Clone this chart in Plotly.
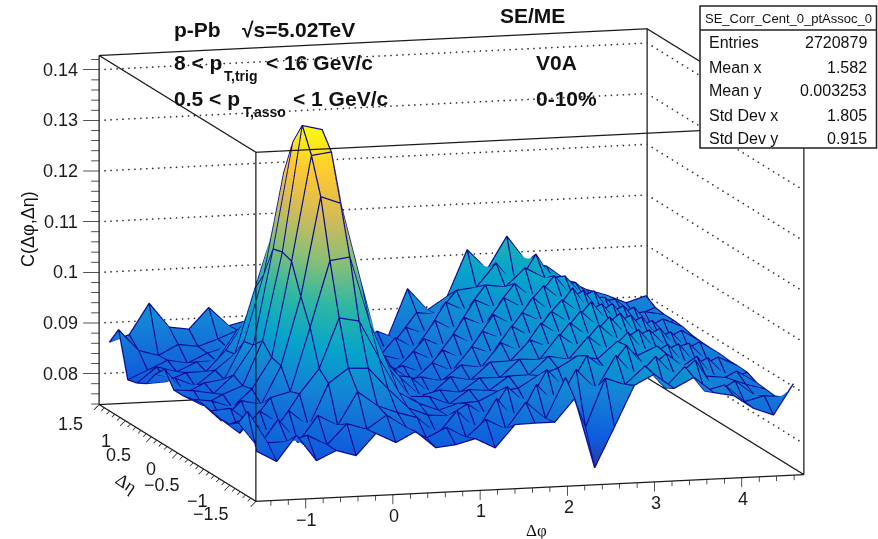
import plotly.graph_objects as go

# ---------- data ----------
delta_phi = [-1.507,-1.279,-1.051,-0.823,-0.595,-0.368,-0.140,0.088,0.316,0.544,0.772,0.999,1.227,1.455,
             1.683,1.911,2.139,2.367,2.595,2.822,3.050,3.278,3.506,3.734,3.962,4.190,4.418,4.647]
delta_eta = [-1.41,-1.234,-1.058,-0.881,-0.705,-0.529,-0.353,-0.176,0.0,0.176,0.353,0.529,0.705,0.881,1.058,1.234,1.41]

# correlation values x 1e4, one row per delta_eta value
row_m8 = [831,809,859,807,825,813,855,835,855,821,825,835,815,859,860,860,905,766,845,925,945,915,935,903,895,868,853,913]
row_m7 = [899,835,835,846,825,865,852,878,851,829,848,826,860,838,890,855,935,835,930,915,950,905,945,895,905,870,880,875]
row_m6 = [865,815,868,820,872,850,915,885,870,858,822,868,826,888,838,912,868,938,896,962,915,956,912,945,878,900,868,866]
row_m5 = [851,862,822,872,838,922,950,948,905,866,850,846,868,838,898,860,928,884,952,920,968,918,948,915,900,895,880,868]
row_m4 = [851,820,862,834,892,940,1038,1030,955,885,862,846,858,860,878,882,905,918,940,932,965,935,952,902,928,875,895,870]
row_m3 = [855,858,825,875,885,1010,1140,1145,1012,920,864,862,845,872,868,895,895,930,922,965,932,970,920,942,892,912,870,879]
row_m2 = [859,822,860,850,925,1060,1255,1240,1085,935,890,852,862,855,882,880,915,912,960,930,975,938,962,912,930,882,900,880]
row_m1 = [855,850,835,870,930,1118,1325,1330,1118,968,884,878,842,875,866,900,900,940,922,970,938,978,932,948,908,918,875,880]
row_0  = [851,830,850,865,952,1125,1373,1363,1155,970,908,860,865,855,885,878,925,905,960,932,980,942,972,918,938,888,908,882]
row_p1 = [851,848,840,875,932,1120,1330,1328,1120,972,888,875,845,880,862,908,892,945,920,970,942,985,936,955,902,918,875,882]
row_p2 = [881,830,850,855,928,1058,1258,1242,1082,935,892,852,865,848,892,872,925,908,958,938,980,948,968,918,938,888,908,883]
row_p3 = [860,850,832,862,892,1018,1140,1145,1005,922,862,870,842,880,860,910,888,945,922,975,940,990,932,955,902,918,875,885]
row_p4 = [830,832,848,848,888,942,1045,1035,965,882,866,845,862,850,892,872,930,912,965,942,985,950,972,918,938,888,908,890]
row_p5 = [820,850,838,856,856,912,950,958,895,875,842,858,840,885,860,915,892,952,932,980,945,992,942,958,902,922,875,892]
row_p6 = [815,832,850,842,860,870,908,892,888,842,856,836,872,846,892,876,938,918,968,962,998,975,978,932,932,892,900,892]
row_p7 = [903,860,848,868,862,875,890,895,865,870,836,862,846,875,858,908,902,948,952,998,948,1012,948,952,912,915,880,895]
row_p8 = [867,880,940,891,885,926,888,897,875,860,855,850,840,849,849,944,900,925,1015,974,1038,985,975,945,925,912,895,907]
rows = [row_m8,row_m7,row_m6,row_m5,row_m4,row_m3,row_m2,row_m1,row_0,row_p1,row_p2,row_p3,row_p4,row_p5,row_p6,row_p7,row_p8]
for r in rows:
    assert len(r) == len(delta_phi)
corr = [[v / 1e4 for v in r] for r in rows]

x_ticks = [-1, 0, 1, 2, 3, 4]
x_labels = ["−1", "0", "1", "2", "3", "4"]
y_ticks = [1.5, 1, 0.5, 0, -0.5, -1, -1.5]
y_labels = ["1.5", "1", "0.5", "0", "−0.5", "−1", "−1.5"]
y_label_shift = [(-29,-20), (-20,-20), (-33,-18), (-27,-16), (-42,-16), (-33,-16), (-45,-13)]
z_ticks = [0.08, 0.09, 0.10, 0.11, 0.12, 0.13, 0.14]
z_labels = ["0.08", "0.09", "0.1", "0.11", "0.12", "0.13", "0.14"]
stats_names = ["Entries", "Mean x", "Mean y", "Std Dev x", "Std Dev y"]
stats_values = ["2720879", "1.582", "0.003253", "1.805", "0.915"]

# ---------- geometry / style ----------
X0, X1 = -1.5708, 4.7124
Y0, Y1 = -1.5, 1.5
Z0, Z1 = 0.0739, 0.1428
BIRD = ["#352a87", "#0f5cdd", "#1481d6", "#06a4ca", "#2eb7a4", "#87bf77", "#d1bb59", "#fec832", "#f9fb0e"]
colorscale = [[i / 8, c] for i, c in enumerate(BIRD)]
FONT = "Liberation Sans"
SCALE = 2.237
WIRE = "#0a0a96"
# wire is lifted a hair toward the viewer so that it wins the depth test
LIFT = (-0.004, -0.006, 0.00008)


def seg(pairs):
    xs, ys, zs = [], [], []
    for a, b in pairs:
        xs += [a[0], b[0], None]
        ys += [a[1], b[1], None]
        zs += [a[2], b[2], None]
    return xs, ys, zs


def line_trace(pairs, color="#1a1a1a", width=2.5):
    xs, ys, zs = seg(pairs)
    return go.Scatter3d(x=xs, y=ys, z=zs, mode="lines", hoverinfo="skip", showlegend=False,
                        line=dict(color=color, width=width))


fig = go.Figure()
fig.add_trace(go.Surface(
    x=delta_phi, y=delta_eta, z=corr, colorscale=colorscale, cmin=0.0739, cmax=0.1373, showscale=False,
    hoverinfo="skip",
    lighting=dict(ambient=1, diffuse=0, specular=0, fresnel=0, roughness=1),
    contours=dict(x=dict(show=False, highlight=False), y=dict(show=False, highlight=False), z=dict(show=False, highlight=False)),
))

# wire frame through the data nodes
wx, wy, wz = [], [], []
for j, eta in enumerate(delta_eta):
    for i, phi in enumerate(delta_phi):
        wx.append(phi + LIFT[0]); wy.append(eta + LIFT[1]); wz.append(corr[j][i] + LIFT[2])
    wx.append(None); wy.append(None); wz.append(None)
for i, phi in enumerate(delta_phi):
    for j, eta in enumerate(delta_eta):
        wx.append(phi + LIFT[0]); wy.append(eta + LIFT[1]); wz.append(corr[j][i] + LIFT[2])
    wx.append(None); wy.append(None); wz.append(None)
fig.add_trace(go.Scatter3d(x=wx, y=wy, z=wz, mode="lines", hoverinfo="skip", showlegend=False,
                           line=dict(color=WIRE, width=2.5)))

# box
box = [
    ((X0, Y1, Z0), (X0, Y1, Z1)), ((X1, Y1, Z0), (X1, Y1, Z1)), ((X0, Y0, Z0), (X0, Y0, Z1)), ((X1, Y0, Z0), (X1, Y0, Z1)),
    ((X0, Y1, Z1), (X1, Y1, Z1)), ((X0, Y0, Z1), (X1, Y0, Z1)), ((X0, Y0, Z1), (X0, Y1, Z1)), ((X1, Y0, Z1), (X1, Y1, Z1)),
    ((X0, Y1, Z0), (X1, Y1, Z0)), ((X0, Y0, Z0), (X1, Y0, Z0)), ((X0, Y0, Z0), (X0, Y1, Z0)), ((X1, Y0, Z0), (X1, Y1, Z0)),
]
fig.add_trace(line_trace(box))

# dotted z grid on the two back walls, as small markers
gx, gy, gz = [], [], []
for z in z_ticks:
    for k in range(1, 92):
        gx.append(X0 + (X1 - X0) * k / 92); gy.append(Y1); gz.append(z)
    for k in range(0, 31):
        gx.append(X1); gy.append(Y1 + (Y0 - Y1) * k / 31); gz.append(z)
fig.add_trace(go.Scatter3d(x=gx, y=gy, z=gz, mode="markers", hoverinfo="skip", showlegend=False,
                           marker=dict(size=1, color="#333333", symbol="circle", line=dict(width=0))))

# tick marks
ticks = []
for k in range(0, 36):
    z = 0.074 + 0.002 * k
    if z > Z1:
        break
    major = k % 5 == 3
    f = 1.0 if major else 0.5
    ticks.append(((X0, Y1, z), (X0 - 0.169 * f, Y1 + 0.0233 * f, z)))
for k in range(-7, 24):
    x = 0.2 * k
    if x < X0 or x > X1:
        continue
    major = k % 5 == 0
    ticks.append(((x, Y0, Z0), (x, Y0, Z0 - (0.0019 if major else 0.001))))
for k in range(-15, 16):
    y = 0.1 * k
    major = k % 5 == 0
    ticks.append(((X0, y, Z0), (X0 - (0.06 if major else 0.035), y, Z0 - (0.001 if major else 0.0006))))
fig.add_trace(line_trace(ticks, width=1.5))

# tick labels as scene annotations
tick_font = dict(family=FONT, size=18, color="#1a1a1a")
scene_ann = []
for v, t in zip(z_ticks, z_labels):
    scene_ann.append(dict(x=X0, y=Y1, z=v, text=t, showarrow=False, xanchor="right", yanchor="middle", xshift=-19, font=tick_font))
for v, t in zip(x_ticks, x_labels):
    scene_ann.append(dict(x=v, y=Y0, z=Z0, text=t, showarrow=False, xanchor="center", yanchor="middle", xshift=1, yshift=-21, font=tick_font))
for v, t, s in zip(y_ticks, y_labels, y_label_shift):
    scene_ann.append(dict(x=X0, y=v, z=Z0, text=t, showarrow=False, xanchor="center", yanchor="middle", xshift=s[0], yshift=s[1], font=tick_font))


def A(px, py, text, size=21, bold=False, anchor="left", angle=0, family=FONT):
    return dict(x=px / 878, y=1 - py / 539, xref="paper", yref="paper", text=f"<b>{text}</b>" if bold else text,
                showarrow=False, xanchor=anchor, yanchor="middle", textangle=angle,
                font=dict(family=family, size=size, color="#111111"))


ann = [
    A(172, 29, "p-Pb", bold=True), A(240, 29, "√s=5.02TeV", bold=True),
    A(498, 15, "SE/ME", bold=True),
    A(172, 62, "8 &lt; p", bold=True), A(222, 76, "T,trig", size=14, bold=True), A(264, 62, "&lt; 16 GeV/c", bold=True),
    A(172, 98, "0.5 &lt; p", bold=True), A(241, 112, "T,asso", size=14, bold=True), A(291, 98, "&lt; 1 GeV/c", bold=True),
    A(534, 62, "V0A", bold=True), A(534, 98, "0-10%", bold=True),
    A(28, 229, "C(Δφ,Δη)", size=18, anchor="center", angle=-90),
    A(536, 530, "Δφ", size=17, anchor="center", family="Liberation Serif"),
    A(126, 483, "Δη", size=18, anchor="center", angle=35, family="Liberation Serif"),
    A(788, 18, "SE_Corr_Cent_0_ptAssoc_0", size=13, anchor="center"),
]
for py, n, v in zip([43, 67, 90, 115, 138], stats_names, stats_values):
    ann.append(A(707, py, n, size=16))
    ann.append(A(869, py, v, size=16, anchor="right"))

shapes = [
    dict(type="rect", xref="paper", yref="paper", x0=700 / 878, x1=876.5 / 878, y0=1 - 148 / 539, y1=1 - 6 / 539,
         fillcolor="white", line=dict(color="#222222", width=1.5), layer="above"),
    dict(type="line", xref="paper", yref="paper", x0=700 / 878, x1=876.5 / 878, y0=1 - 30 / 539, y1=1 - 30 / 539,
         line=dict(color="#222222", width=1.5), layer="above"),
]

hidden = dict(visible=False, showgrid=False, zeroline=False, showbackground=False, showline=False,
              showticklabels=False, ticks="", showspikes=False, title="", autorange=False)
fig.update_layout(
    width=878, height=539, autosize=False, margin=dict(l=0, r=0, t=0, b=0),
    paper_bgcolor="white", showlegend=False, annotations=ann, shapes=shapes,
    scene=dict(
        domain=dict(x=[0.005, 1], y=[0.004, 1]),
        xaxis=dict(range=[-1.85, 4.78], **hidden),
        yaxis=dict(range=[-1.53, 1.58], **hidden),
        zaxis=dict(range=[0.0712, 0.1440], **hidden),
        aspectmode="manual", aspectratio=dict(x=SCALE, y=SCALE, z=0.6235 * SCALE),
        camera=dict(projection=dict(type="orthographic"), up=dict(x=0, y=0, z=1), center=dict(x=0, y=0, z=0),
                    eye=dict(x=-0.533, y=-1.896, z=0.347)),
        annotations=scene_ann,
        dragmode=False,
    ),
)
fig.write_html("out.html", post_script="document.body.style.margin='0';", config=dict(displayModeBar=False))
